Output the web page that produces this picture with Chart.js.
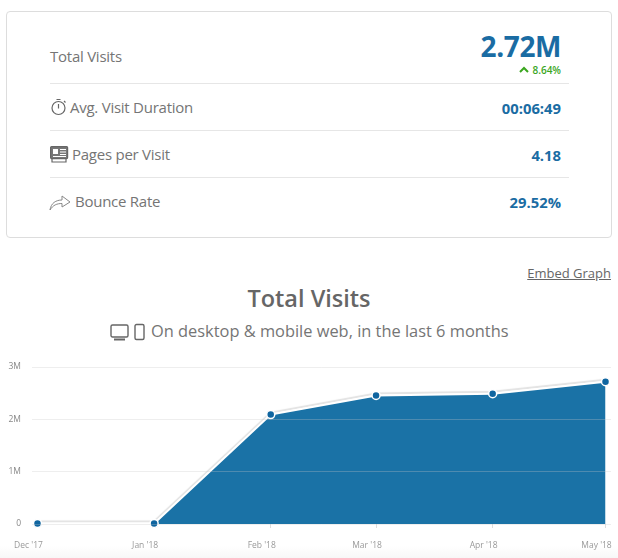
<!DOCTYPE html>
<html>
<head>
<meta charset="utf-8">
<script src="https://cdn.jsdelivr.net/npm/chart.js@4"></script>
<style>
  html, body { margin: 0; padding: 0; background: #fff; }
  body { width: 618px; height: 558px; position: relative; overflow: hidden; font-family: "Open Sans", sans-serif; color: #666; }
  .abs { position: absolute; white-space: nowrap; }
  #card { left: 6px; top: 11px; width: 604px; height: 225px; border: 1.5px solid #ddd; border-radius: 4px; }
  .rule { left: 50px; width: 519px; height: 1px; background: #e6e6e6; }
  .lbl { font-size: 15px; line-height: 20px; color: #757575; letter-spacing: -0.25px; }
  .val { right: 57px; font-size: 14.8px; line-height: 20px; font-weight: 700; color: #1a6ca3; }
  svg { position: absolute; fill: none; stroke: #666; }
  #chartBox { left: 0; top: 355px; width: 618px; height: 203px; }
  #fade { left: 0; top: 546px; width: 618px; height: 12px; background: linear-gradient(#fff, #f7f7f7); }
</style>
</head>
<body>
<div class="abs" id="card"></div>

<div class="abs lbl" style="left:50px;top:46px">Total Visits</div>
<div class="abs" style="right:57px;top:27px;font-size:28px;line-height:38px;font-weight:700;color:#1a6ca3;letter-spacing:-0.4px">2.72M</div>
<div class="abs" style="right:57px;top:63px;font-size:10px;line-height:14px;font-weight:600;color:#3aa61e">8.64%</div>
<svg style="left:519px;top:66px;stroke:#3aa61e;stroke-width:2" width="10" height="7"><path d="M1 6 L5 2 L9 6"/></svg>
<div class="abs rule" style="top:83px"></div>

<svg style="left:50px;top:98px;stroke-width:1.2" width="18" height="18"><circle cx="8.5" cy="10" r="6.5"/><path d="M8.5 6 V10.5 M6.5 1.5 H10.5 M14 3 L15.5 4.5"/></svg>
<div class="abs lbl" style="left:70px;top:97px">Avg. Visit Duration</div>
<div class="abs val" style="top:98px">00:06:49</div>
<div class="abs rule" style="top:130px"></div>

<svg style="left:50px;top:146px;stroke-width:1.2" width="19" height="18"><rect x="0.6" y="0.6" width="17" height="12" rx="1" fill="#777"/><rect x="3" y="3" width="5" height="5" fill="#fff" stroke="none"/><path d="M10 3.5 H16 M10 6 H16 M10 8.5 H16 M3 10.5 H16" stroke="#fff"/><path d="M2 13 V16 H16 V13"/></svg>
<div class="abs lbl" style="left:72px;top:144px">Pages per Visit</div>
<div class="abs val" style="top:145px">4.18</div>
<div class="abs rule" style="top:177px"></div>

<svg style="left:49px;top:194px;stroke:#888;stroke-width:1" width="22" height="18"><path d="M1 16 C2 9 7 6 13 6 V2 L21 8 L13 13 V9.5 C8 9.5 4 11 1 16 Z"/></svg>
<div class="abs lbl" style="left:75px;top:191px">Bounce Rate</div>
<div class="abs val" style="top:192px">29.52%</div>

<div class="abs" style="right:7px;top:264px;font-size:13px;line-height:18px;color:#666;text-decoration:underline">Embed Graph</div>
<div class="abs" style="left:0;width:618px;top:281px;text-align:center;font-size:23.5px;line-height:34px;font-weight:600;color:#666">Total Visits</div>

<svg style="left:110px;top:323px;stroke-width:1.4" width="36" height="20"><rect x="1" y="2" width="17" height="12" rx="1.5"/><path d="M4 16.5 H15" stroke-width="2"/><rect x="25" y="1.5" width="9" height="15" rx="1.5"/></svg>
<div class="abs" style="left:151px;top:319px;font-size:16.4px;line-height:24px;color:#757575">On desktop &amp; mobile web, in the last 6 months</div>

<div class="abs" id="fade"></div>
<div class="abs" id="chartBox"><canvas id="chartVisits"></canvas></div>

<script>
const monthDates = ["2017-12-01", "2018-01-01", "2018-02-01", "2018-03-01", "2018-04-01", "2018-05-01"];
const monthLabels = ["Dec '17", "Jan '18", "Feb '18", "Mar '18", "Apr '18", "May '18"];
const visits = [10000, 10000, 2090000, 2457000, 2490000, 2720000];
const yTicks = [0, 1000000, 2000000, 3000000];
const yTickLabels = ["0", "1M", "2M", "3M"];

const times = monthDates.map(d => Date.parse(d));
const DAY = 86400000;

// white line gets a soft grey edge above it, the points do not
const lineShadow = {
  id: "lineShadow",
  beforeDatasetDraw(chart, args) {
    const line = args.meta.dataset;
    const draw = line.draw;
    line.draw = function (ctx, area) {
      ctx.save();
      ctx.shadowColor = "rgba(0,0,0,0.12)";
      ctx.shadowBlur = 1;
      ctx.shadowOffsetY = -2;
      draw.call(this, ctx, area);
      ctx.restore();
    };
  },
  afterDatasetDraw(chart, args) {
    delete args.meta.dataset.draw;
  }
};

// stop the scales reserving extra room for their outer labels
function noMargins(axis) {
  axis.paddingLeft = axis.paddingRight = axis.paddingTop = axis.paddingBottom = 0;
}

new Chart(document.getElementById("chartVisits"), {
  type: "line",
  plugins: [lineShadow],
  data: {
    datasets: [{
      data: times.map((t, i) => ({ x: t, y: visits[i] })),
      borderColor: "#fff",
      borderWidth: 2,
      backgroundColor: "#1a72a6",
      fill: "origin",
      tension: 0,
      clip: false,
      pointRadius: 4,
      pointBorderWidth: 1.5,
      pointBackgroundColor: "#0f65a0",
      pointBorderColor: "#fff"
    }]
  },
  options: {
    responsive: true,
    maintainAspectRatio: false,
    animation: false,
    devicePixelRatio: 1,
    layout: { padding: { top: 12, right: 7, left: 0, bottom: 0 } },
    plugins: { legend: { display: false }, tooltip: { enabled: false } },
    scales: {
      x: {
        type: "linear",
        min: times[0] - 1.46 * DAY,
        max: times[5] + 1.46 * DAY,
        afterBuildTicks(axis) { axis.ticks = times.map(t => ({ value: t })); },
        afterFit(axis) { axis.height = 34; noMargins(axis); },
        border: { display: false },
        grid: { drawOnChartArea: false, drawTicks: true, tickLength: 4, color: "#ddd" },
        ticks: {
          autoSkip: false,
          maxRotation: 0,
          labelOffset: -9,
          padding: 12,
          color: "#999",
          font: { family: "Open Sans", size: 8.5 },
          callback: (v, i) => monthLabels[i]
        }
      },
      y: {
        min: 0,
        max: 3000000,
        afterBuildTicks(axis) { axis.ticks = yTicks.map(v => ({ value: v })); },
        afterFit(axis) { axis.width = 32; noMargins(axis); },
        border: { display: false },
        grid: { drawTicks: false, color: "rgba(200,200,200,0.3)", lineWidth: 1, z: 1 },
        ticks: {
          padding: 11,
          color: "#888",
          font: { family: "Open Sans", size: 8.5 },
          callback: (v, i) => yTickLabels[i]
        }
      }
    }
  }
});
</script>
</body>
</html>
